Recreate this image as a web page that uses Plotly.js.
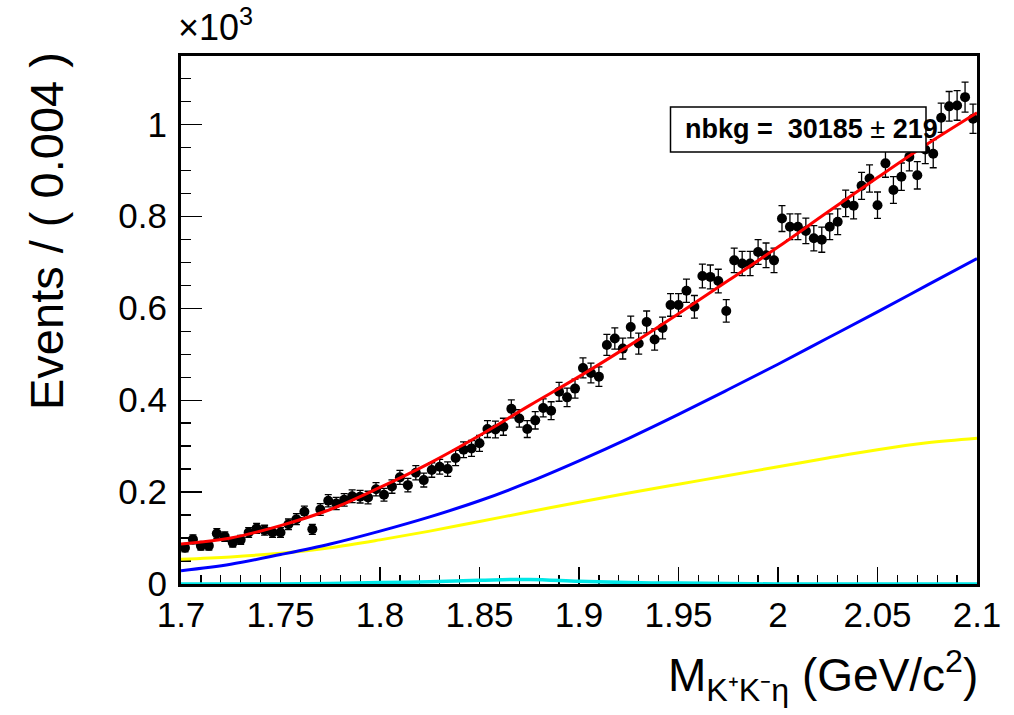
<!DOCTYPE html>
<html>
<head>
<meta charset="utf-8">
<script src="https://cdn.plot.ly/plotly-3.0.1.min.js"></script>
<style>html,body{margin:0;padding:0;background:#fff;} #plot{width:1014px;height:715px;}</style>
</head>
<body>
<div id="plot"></div>
<script>
// ---- data: events per 0.004 GeV/c^2 bin (100 bins from 1.7 to 2.1) ----
const binLow = 1.7;
const binWidth = 0.004;
const counts = [
  79, 97, 83, 83, 110, 103, 90, 96, 112, 121,
  117, 112, 112, 130, 141, 157, 119, 162, 181, 175,
  183, 191, 190, 188, 206, 194, 212, 232, 215, 242,
  226, 248, 255, 250, 274, 292, 295, 306, 337, 336,
  342, 381, 360, 337, 356, 383, 377, 418, 406, 425,
  470, 459, 451, 520, 534, 512, 559, 523, 570, 532,
  557, 607, 607, 638, 603, 670, 668, 659, 594, 704,
  697, 697, 722, 715, 704, 795, 777, 777, 768, 752,
  749, 777, 788, 828, 823, 866, 882, 824, 915, 857,
  886, 929, 889, 945, 936, 1014, 1039, 1041, 1059, 1012
];

// ---- fit curves sampled on a grid (events per bin) ----
const curveX = [1.700, 1.725, 1.750, 1.775, 1.800, 1.825, 1.850, 1.875, 1.900,
                1.925, 1.950, 1.975, 2.000, 2.025, 2.050, 2.075, 2.100];
const totalFit = [87, 100, 127, 162, 210, 263, 323, 388, 451, 518, 588, 660, 733, 809, 884, 957, 1025];
const blueComp = [29, 43, 64, 87, 115, 146, 181, 222, 268, 317, 369, 423, 478, 535, 592, 650, 708];
const yellowComp = [54, 59, 67, 79, 96, 115, 136, 157, 178, 198, 217, 236, 255, 274, 292, 307, 317];
const cyanComp = [0, 0, 0, 1, 3, 5, 8, 10, 6, 3, 2, 1, 0, 0, 0, 0, 0];

const yScale = 1000; // axis drawn in units of 10^3

// ---- build traces ----
const binCenters = counts.map((c, i) => binLow + binWidth * (i + 0.5));
const yData = counts.map(c => c / yScale);
const yErr = counts.map(c => Math.sqrt(c) / yScale);
const sc = a => a.map(v => v / yScale);

const lineTrace = (y, color, w) => ({
  x: curveX, y: sc(y), type: 'scatter', mode: 'lines',
  line: {color: color, width: w, shape: 'spline', smoothing: 1.0},
  hoverinfo: 'skip', showlegend: false
});

const traces = [
  lineTrace(cyanComp, '#00e8e8', 3.5),
  lineTrace(yellowComp, '#ffff00', 3),
  lineTrace(blueComp, '#0000ff', 3),
  {
    x: binCenters, y: yData, type: 'scatter', mode: 'markers',
    marker: {color: 'black', size: 10},
    error_y: {type: 'data', array: yErr, visible: true, color: 'black', thickness: 1.3, width: 3.5},
    showlegend: false
  },
  lineTrace(totalFit, '#ff0000', 3)
];

// pixel helpers for layout placement
const L = 181, R = 977, T = 56, B = 584;
const px = p => (p - L) / (R - L);
const py = p => (B - p) / (B - T);

const fontFam = '"Liberation Sans", Arial, Helvetica, sans-serif';

const layout = {
  width: 1014, height: 715,
  margin: {l: L, r: 1014 - R, t: T, b: 715 - B, pad: 0},
  paper_bgcolor: 'white', plot_bgcolor: 'white',
  showlegend: false,
  font: {family: fontFam, color: 'black', size: 35},
  xaxis: {
    range: [1.7, 2.1], dtick: 0.05, tick0: 1.7,
    ticks: 'inside', ticklen: 17, tickwidth: 1.2, tickcolor: 'black',
    minor: {dtick: 0.01, ticks: 'inside', ticklen: 9, tickwidth: 1.2, tickcolor: 'black'},
    showline: true, linewidth: 3, linecolor: 'black', mirror: true,
    showgrid: false, zeroline: false, layer: 'below traces',
    tickfont: {size: 35, family: fontFam}, ticklabelstandoff: -2
  },
  yaxis: {
    range: [0, 1.1485], dtick: 0.2, tick0: 0,
    ticks: 'inside', ticklen: 21, tickwidth: 1.2, tickcolor: 'black',
    minor: {dtick: 0.05, ticks: 'inside', ticklen: 10, tickwidth: 1.2, tickcolor: 'black'},
    showline: true, linewidth: 3, linecolor: 'black', mirror: true,
    showgrid: false, zeroline: false, layer: 'below traces',
    tickfont: {size: 35, family: fontFam}, ticklabelstandoff: 4
  },
  shapes: [{
    type: 'rect', xref: 'paper', yref: 'paper',
    x0: px(670.5), x1: px(926), y0: py(152), y1: py(107),
    line: {color: 'black', width: 1.5}, fillcolor: 'white', layer: 'above'
  }],
  annotations: [
    {
      xref: 'paper', yref: 'paper', x: px(683), y: py(129.5), xanchor: 'left', yanchor: 'middle',
      text: '<b>nbkg =\u00a0\u00a030185\u00a0</b>\u00b1<b>\u00a0219</b>', showarrow: false,
      font: {size: 27, family: fontFam, color: 'black'}
    },
    {
      xref: 'paper', yref: 'paper', x: px(176), y: py(50), xanchor: 'left', yanchor: 'bottom',
      text: '×10<sup>3</sup>', showarrow: false,
      font: {size: 36, family: fontFam, color: 'black'}
    },
    {
      xref: 'paper', yref: 'paper', x: px(47), y: py(50), xanchor: 'center', yanchor: 'top',
      text: 'Events / ( 0.004 )', textangle: -90, showarrow: false,
      font: {size: 47, family: fontFam, color: 'black'}
    },
    {
      xref: 'paper', yref: 'paper', x: px(980), y: py(710), xanchor: 'right', yanchor: 'bottom',
      text: 'M<sub>K\u207AK\u207B\u03B7</sub> (GeV/c<sup>2</sup>)', showarrow: false,
      font: {size: 46, family: fontFam, color: 'black'}
    }
  ]
};

Plotly.newPlot('plot', traces, layout, {staticPlot: true, displayModeBar: false});
</script>
</body>
</html>
